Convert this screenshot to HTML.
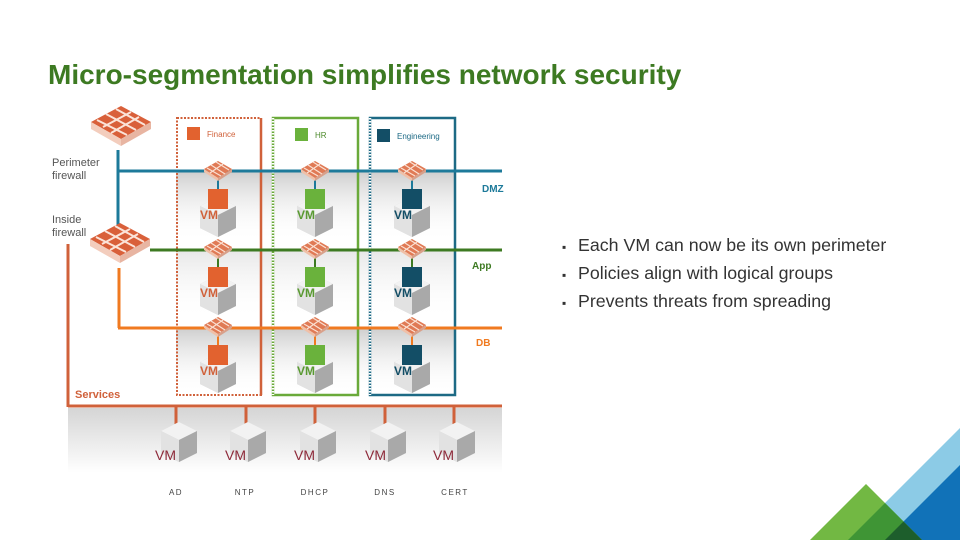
<!DOCTYPE html>
<html><head><meta charset="utf-8"><style>
body{margin:0;background:#fff}
svg{display:block;font-family:"Liberation Sans",sans-serif}
</style></head><body>
<svg width="960" height="540" viewBox="0 0 960 540" xmlns="http://www.w3.org/2000/svg">
<defs>
<linearGradient id="rowg" x1="0" y1="0" x2="0" y2="1">
<stop offset="0" stop-color="#cfcfcf"/><stop offset="1" stop-color="#fff" stop-opacity="0"/></linearGradient>
<linearGradient id="svcg" x1="0" y1="0" x2="0" y2="1">
<stop offset="0" stop-color="#d5d5d5"/><stop offset="1" stop-color="#fff"/></linearGradient>
<g id="cube">
<polygon points="0,-14 18,-5 18,17 0,26 -18,17 -18,-5" fill="#d8d8d8"/>
<polygon points="0,-14 18,-5 0,4 -18,-5" fill="#f2f2f2"/>
<polygon points="0,4 18,-5 18,17 0,26" fill="#a9a9a9"/>
<polygon points="0,4 -18,-5 -18,17 0,26" fill="#e2e2e2"/>
</g>
<g id="fw">
<polygon points="0,-10 14,-2 0,7 -14,-2" fill="#e07a55"/>
<polygon points="-14,-2 0,7 0,10 -14,1" fill="#f0c0a8"/>
<polygon points="14,-2 0,7 0,10 14,1" fill="#d9a08a"/>
<path d="M-7,-6 L7,3 M-2,-9 L11,-1 M-11,-3 L3,5 M5,-7 L-8,2" stroke="#fbe0d2" stroke-width="1.2"/>
</g>
<g id="bfw">
<polygon points="0,-20 30,-4 0,13 -30,-4" fill="#d9603a"/>
<polygon points="-30,-4 0,13 0,20 -30,3" fill="#f3cdbd"/>
<polygon points="30,-4 0,13 0,20 30,3" fill="#e8b5a2"/>
<path d="M-15,-12 L15,4 M-5,-17 L24,-1 M-24,-6 L6,9 M10,-14 L-18,1 M18,-9 L-10,7" stroke="#fbe3d8" stroke-width="2"/>
</g>
</defs>

<text x="48" y="84" font-size="28" font-weight="bold" fill="#3d7a22">Micro-segmentation simplifies network security</text>

<rect x="176" y="172" width="280" height="70" fill="url(#rowg)"/>
<rect x="176" y="250" width="280" height="70" fill="url(#rowg)" opacity="0.5"/>
<rect x="176" y="329" width="280" height="65" fill="url(#rowg)"/>
<rect x="68" y="408" width="434" height="65" fill="url(#svcg)"/>

<rect x="177" y="118" width="84" height="277" fill="none" stroke="#d0613a" stroke-width="2" stroke-dasharray="2,1.5"/>
<line x1="261" y1="118" x2="261" y2="395" stroke="#d0613a" stroke-width="2.5"/>
<rect x="273" y="118" width="85" height="277" fill="none" stroke="#6aaa3a" stroke-width="2.5"/>
<line x1="273" y1="118" x2="273" y2="395" stroke="#fff" stroke-width="2.5" stroke-dasharray="1.5,1.5"/>
<rect x="370" y="118" width="85" height="277" fill="none" stroke="#1d6a85" stroke-width="2.5"/>
<line x1="370" y1="118" x2="370" y2="395" stroke="#fff" stroke-width="2.5" stroke-dasharray="1.5,1.5"/>

<rect x="187" y="127" width="13" height="13" fill="#e2622f"/>
<text x="207" y="137" font-size="8" fill="#d0613a">Finance</text>
<rect x="295" y="128" width="13" height="13" fill="#6ab23c"/>
<text x="315" y="138" font-size="8" fill="#4d8a2c">HR</text>
<rect x="377" y="129" width="13" height="13" fill="#134e66"/>
<text x="397" y="139" font-size="8" fill="#1d6a85">Engineering</text>

<line x1="118" y1="150" x2="118" y2="236" stroke="#1d7a9a" stroke-width="3"/>
<line x1="118" y1="171" x2="502" y2="171" stroke="#1d7a9a" stroke-width="3"/>
<line x1="150" y1="250" x2="502" y2="250" stroke="#3d7a22" stroke-width="3"/>
<line x1="119" y1="268" x2="119" y2="328" stroke="#f07a20" stroke-width="3"/>
<line x1="118" y1="328" x2="502" y2="328" stroke="#f07a20" stroke-width="3"/>
<line x1="68" y1="244" x2="68" y2="407" stroke="#d0613a" stroke-width="3"/>
<line x1="68" y1="406" x2="502" y2="406" stroke="#d0613a" stroke-width="3"/>

<text x="482" y="192" font-size="10" font-weight="bold" fill="#1d7a9a">DMZ</text>
<text x="472" y="269" font-size="10" font-weight="bold" fill="#3d7a22">App</text>
<text x="476" y="346" font-size="10" font-weight="bold" fill="#f07a20">DB</text>

<text x="52" y="166" font-size="11" fill="#555">Perimeter</text>
<text x="52" y="179" font-size="11" fill="#555">firewall</text>
<text x="52" y="223" font-size="11" fill="#555">Inside</text>
<text x="52" y="236" font-size="11" fill="#555">firewall</text>
<text x="75" y="398" font-size="11" font-weight="bold" fill="#d0613a">Services</text>

<use href="#bfw" x="121" y="126"/>
<use href="#bfw" x="120" y="243"/>

<g>
<line x1="218" y1="178" x2="218" y2="190" stroke="#1d7a9a" stroke-width="2"/>
<line x1="315" y1="178" x2="315" y2="190" stroke="#1d7a9a" stroke-width="2"/>
<line x1="412" y1="178" x2="412" y2="190" stroke="#1d7a9a" stroke-width="2"/>
<line x1="218" y1="256" x2="218" y2="268" stroke="#3d7a22" stroke-width="2"/>
<line x1="315" y1="256" x2="315" y2="268" stroke="#3d7a22" stroke-width="2"/>
<line x1="412" y1="256" x2="412" y2="268" stroke="#3d7a22" stroke-width="2"/>
<line x1="218" y1="334" x2="218" y2="346" stroke="#f07a20" stroke-width="2"/>
<line x1="315" y1="334" x2="315" y2="346" stroke="#f07a20" stroke-width="2"/>
<line x1="412" y1="334" x2="412" y2="346" stroke="#f07a20" stroke-width="2"/>
</g>
<g>
<use href="#cube" x="218" y="211"/><use href="#cube" x="315" y="211"/><use href="#cube" x="412" y="211"/>
<use href="#cube" x="218" y="289"/><use href="#cube" x="315" y="289"/><use href="#cube" x="412" y="289"/>
<use href="#cube" x="218" y="367"/><use href="#cube" x="315" y="367"/><use href="#cube" x="412" y="367"/>
</g>
<g>
<rect x="208" y="189" width="20" height="20" fill="#e2622f"/><rect x="305" y="189" width="20" height="20" fill="#6ab23c"/><rect x="402" y="189" width="20" height="20" fill="#134e66"/>
<rect x="208" y="267" width="20" height="20" fill="#e2622f"/><rect x="305" y="267" width="20" height="20" fill="#6ab23c"/><rect x="402" y="267" width="20" height="20" fill="#134e66"/>
<rect x="208" y="345" width="20" height="20" fill="#e2622f"/><rect x="305" y="345" width="20" height="20" fill="#6ab23c"/><rect x="402" y="345" width="20" height="20" fill="#134e66"/>
</g>
<g font-size="12" font-weight="bold">
<text x="200" y="219" fill="#d0613a">VM</text><text x="297" y="219" fill="#5a9a32">VM</text><text x="394" y="219" fill="#134e66">VM</text>
<text x="200" y="297" fill="#d0613a">VM</text><text x="297" y="297" fill="#5a9a32">VM</text><text x="394" y="297" fill="#134e66">VM</text>
<text x="200" y="375" fill="#d0613a">VM</text><text x="297" y="375" fill="#5a9a32">VM</text><text x="394" y="375" fill="#134e66">VM</text>
</g>
<g>
<use href="#fw" x="218" y="171"/><use href="#fw" x="315" y="171"/><use href="#fw" x="412" y="171"/>
<use href="#fw" x="218" y="249"/><use href="#fw" x="315" y="249"/><use href="#fw" x="412" y="249"/>
<use href="#fw" x="218" y="327"/><use href="#fw" x="315" y="327"/><use href="#fw" x="412" y="327"/>
</g>

<g stroke="#d0613a" stroke-width="3">
<line x1="176" y1="406" x2="176" y2="424"/><line x1="246" y1="406" x2="246" y2="424"/><line x1="315" y1="406" x2="315" y2="424"/><line x1="385" y1="406" x2="385" y2="424"/><line x1="454" y1="406" x2="454" y2="424"/>
</g>
<g>
<use href="#cube" x="179" y="436"/><use href="#cube" x="248" y="436"/><use href="#cube" x="318" y="436"/><use href="#cube" x="388" y="436"/><use href="#cube" x="457" y="436"/>
</g>
<g font-size="14" fill="#8e2a3a">
<text x="155" y="460">VM</text><text x="225" y="460">VM</text><text x="294" y="460">VM</text><text x="365" y="460">VM</text><text x="433" y="460">VM</text>
</g>
<g font-size="8" fill="#444" text-anchor="middle" letter-spacing="1.5">
<text x="176" y="495">AD</text><text x="245" y="495">NTP</text><text x="315" y="495">DHCP</text><text x="385" y="495">DNS</text><text x="455" y="495">CERT</text>
</g>

<g font-size="17.8" fill="#333">
<text x="562" y="251" font-size="12">▪</text><text x="578" y="251">Each VM can now be its own perimeter</text>
<text x="562" y="279" font-size="12">▪</text><text x="578" y="279">Policies align with logical groups</text>
<text x="562" y="307" font-size="12">▪</text><text x="578" y="307">Prevents threats from spreading</text>
</g>

<defs>
<clipPath id="lb"><polygon points="960,428 960,540 848,540"/></clipPath>
<clipPath id="db"><polygon points="960,465 960,540 885,540"/></clipPath>
</defs>
<polygon points="960,428 960,540 848,540" fill="#8ccbe6"/>
<polygon points="960,465 960,540 885,540" fill="#1172b8"/>
<polygon points="866,484 810,540 922,540" fill="#72b843"/>
<polygon points="866,484 810,540 922,540" fill="#3f9535" clip-path="url(#lb)"/>
<polygon points="866,484 810,540 922,540" fill="#1d5e2c" clip-path="url(#db)"/>
</svg>
</body></html>
